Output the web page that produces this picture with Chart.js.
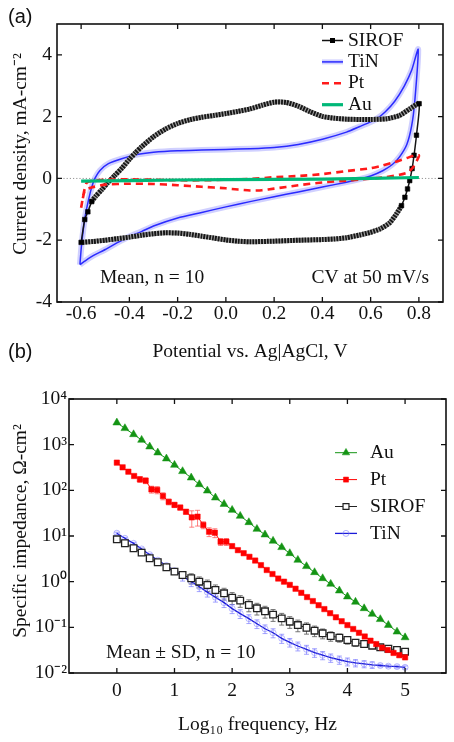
<!DOCTYPE html>
<html>
<head>
<meta charset="utf-8">
<script src="https://cdn.jsdelivr.net/npm/chart.js@4.4.1/dist/chart.umd.min.js"></script>
<style>
html, body { margin: 0; padding: 0; background: #fff; }
body { width: 454px; height: 742px; position: relative; overflow: hidden; }
canvas { position: absolute; left: 0; }
#cv { top: 0; }
#eis { top: 368px; }
.panel { position: absolute; left: 8px; z-index: 2; font: 20px "Liberation Sans", Arial, sans-serif; line-height: 20px; color: #111; }
</style>
</head>
<body>
<div class="panel" style="top:6px">(a)</div>
<div class="panel" style="top:341px">(b)</div>
<canvas id="cv" width="454" height="368"></canvas>
<canvas id="eis" width="454" height="374"></canvas>
<script>
// ---- (a) cyclic voltammetry, potential (V) vs current density (mA/cm2)
const cvTicksX = [-0.6, -0.4, -0.2, 0.0, 0.2, 0.4, 0.6, 0.8];
const cvTicksY = [-4, -2, 0, 2, 4];

const sirofV = [-0.600,-0.585,-0.572,-0.556,-0.540,-0.515,-0.490,-0.460,-0.430,-0.400,-0.375,-0.350,-0.300,-0.250,-0.200,-0.150,-0.100,-0.050,0.000,0.050,0.100,0.150,0.200,0.250,0.300,0.350,0.400,0.450,0.500,0.555,0.600,0.666,0.720,0.762,0.801,
  0.790,0.780,0.772,0.762,0.753,0.742,0.728,0.707,0.680,0.638,0.597,0.555,0.500,0.450,0.400,0.300,0.200,0.100,0.050,0.000,-0.050,-0.100,-0.150,-0.200,-0.250,-0.300,-0.350,-0.400,-0.450,-0.500,-0.550,-0.600];
const sirofJ = [-2.07,-1.33,-1.08,-0.75,-0.58,-0.37,-0.14,0.10,0.34,0.62,0.83,1.02,1.35,1.60,1.78,1.90,1.98,2.04,2.10,2.17,2.25,2.37,2.47,2.46,2.34,2.16,2.01,1.95,1.92,1.91,1.91,1.93,2.04,2.25,2.42,
  1.40,0.75,0.32,-0.07,-0.34,-0.61,-0.88,-1.15,-1.43,-1.64,-1.75,-1.83,-1.92,-1.96,-1.98,-2.00,-2.03,-2.05,-2.03,-1.99,-1.93,-1.87,-1.81,-1.77,-1.76,-1.79,-1.84,-1.90,-1.95,-2.00,-2.04,-2.07];

const tinV = [-0.605,-0.598,-0.584,-0.570,-0.556,-0.543,-0.522,-0.487,-0.432,-0.363,-0.300,-0.200,-0.100,0.000,0.100,0.200,0.300,0.400,0.500,0.555,0.600,0.625,0.660,0.700,0.740,0.770,0.797,
  0.783,0.770,0.750,0.720,0.690,0.650,0.600,0.555,0.500,0.400,0.300,0.200,0.100,0.000,-0.100,-0.200,-0.300,-0.350,-0.400,-0.450,-0.500,-0.550,-0.580,-0.605];
const tinJ = [-2.79,-2.13,-1.26,-0.72,-0.28,0.00,0.26,0.48,0.64,0.78,0.85,0.90,0.92,0.94,0.96,1.00,1.10,1.27,1.50,1.68,1.83,1.93,2.15,2.50,3.00,3.50,4.18,
  2.50,1.70,1.10,0.70,0.45,0.25,0.08,-0.02,-0.12,-0.28,-0.44,-0.59,-0.75,-0.92,-1.10,-1.28,-1.54,-1.72,-1.88,-2.08,-2.30,-2.50,-2.65,-2.79];

const ptV = [-0.600,-0.590,-0.578,-0.560,-0.500,-0.400,-0.300,-0.200,-0.100,0.000,0.100,0.200,0.300,0.400,0.500,0.600,0.650,0.700,0.750,0.780,0.800,
  0.800,0.790,0.775,0.755,0.720,0.650,0.550,0.500,0.400,0.300,0.200,0.150,0.100,0.050,0.000,-0.100,-0.200,-0.300,-0.400,-0.500,-0.560,-0.585,-0.600];
const ptJ = [-0.95,-0.50,-0.15,-0.08,-0.04,-0.03,-0.04,-0.06,-0.06,-0.04,-0.02,0.04,0.08,0.14,0.24,0.33,0.42,0.53,0.66,0.74,0.75,
  0.72,0.55,0.35,0.20,0.12,0.03,-0.04,-0.07,-0.13,-0.22,-0.33,-0.38,-0.39,-0.36,-0.32,-0.27,-0.22,-0.18,-0.17,-0.20,-0.30,-0.40,-0.95];

const auV = [-0.6, -0.4, -0.2, 0.0, 0.2, 0.4, 0.6, 0.8];
const auJ = [-0.09, -0.07, -0.05, -0.04, -0.03, -0.02, 0.00, 0.03];

// ---- (b) impedance magnitude (ohm cm2) vs log10 frequency
const eisTicksX = [0, 1, 2, 3, 4, 5];
const eisTicksY = [0.01, 0.1, 1, 10, 100, 1000, 10000];
const eisTickLabels = ['10⁻²', '10⁻¹', '10⁰', '10¹', '10²', '10³', '10⁴'];

const logF7 = [0,0.14,0.29,0.43,0.57,0.71,0.86,1,1.14,1.29,1.43,1.57,1.71,1.86,2,2.14,2.29,2.43,2.57,2.71,2.86,3,3.14,3.29,3.43,3.57,3.71,3.86,4,4.14,4.29,4.43,4.57,4.71,4.86,5];
const logF10 = [0,0.1,0.2,0.3,0.4,0.5,0.6,0.7,0.8,0.9,1,1.1,1.2,1.3,1.4,1.5,1.6,1.7,1.8,1.9,2,2.1,2.2,2.3,2.4,2.5,2.6,2.7,2.8,2.9,3,3.1,3.2,3.3,3.4,3.5,3.6,3.7,3.8,3.9,4,4.1,4.2,4.3,4.4,4.5,4.6,4.7,4.8,4.9,5];

const auZ = [3030,2280,1680,1265,904,668,494,359,261,189,135,98,69,50,37,27.4,19.9,14.2,10.7,7.8,5.65,4.17,2.98,2.17,1.6,1.18,0.89,0.635,0.47,0.36,0.26,0.196,0.15,0.112,0.080,0.060];
const ptZ = [404,319,256,206,174,163,105,102,75,56,48,42,34,25.6,26.5,17.4,12.4,11.8,7.5,7.5,6.0,4.9,4.2,3.5,2.9,2.3,1.8,1.47,1.17,1.0,
  0.85,0.70,0.57,0.46,0.376,0.305,0.251,0.204,0.166,0.136,0.112,0.092,0.076,0.063,0.051,0.043,0.036,0.032,0.0275,0.0245,0.022];
const ptSd = [10,8,8,8,25,23,18,18,13,8,6,5,4,10,10,3,2.7,2.6,1.3,1.3,0.6,0.4,0.3,0.25,0.2,0.15,0.12,0.08,0.06,0.05,0.04,
  0.03,0.025,0.02,0.016,0.013,0.01,0.008,0.007,0.006,0.005,0.004,0.003,0.003,0.002,0.002,0.0015,0.0013,0.0011,0.001,0.0009];
const sirofZ = [8.45,6.93,5.39,4.33,3.25,2.66,2.07,1.66,1.40,1.19,1.0,0.845,0.657,0.556,0.446,0.384,0.309,0.261,0.224,0.19,0.157,0.133,0.112,0.098,0.0845,0.074,0.0646,0.0594,0.0528,0.0462,0.0432,0.0397,0.0365,0.0341,0.0319,0.0293];
const sirofSd = [0.4,0.3,0.25,0.2,0.15,0.12,0.15,0.15,0.2,0.3,0.27,0.24,0.19,0.16,0.13,0.11,0.09,0.075,0.065,0.055,0.045,0.038,0.032,0.027,0.022,0.018,0.015,0.012,0.01,0.008,0.007,0.005,0.004,0.004,0.003,0.003];
const tinZ = [11.5,8.9,6.9,5.2,3.9,2.95,2.26,1.74,1.32,1.0,0.776,0.59,0.457,0.347,0.257,0.2,0.155,0.12,0.093,0.076,0.0575,0.047,0.039,0.033,0.028,0.0245,0.0216,0.0195,0.0178,0.0166,0.0158,0.0151,0.0146,0.0141,0.0138,0.0133];
const tinSd = [0.6,0.45,0.35,0.26,0.2,0.15,0.12,0.1,0.29,0.22,0.17,0.13,0.10,0.076,0.057,0.044,0.034,0.026,0.02,0.017,0.013,0.01,0.0086,0.0073,0.006,0.005,0.0045,0.004,0.0035,0.003,0.0028,0.0025,0.001,0.001,0.001,0.001];

const SERIF = '"Liberation Serif", "Times New Roman", serif';
const FS = 19.5;
Chart.defaults.font.family = SERIF;
Chart.defaults.font.size = FS;
Chart.defaults.color = '#111';

const pts = (xs, ys) => xs.map((v, i) => ({x: v, y: ys[i]}));

// SIROF sweep: steep parts show separate markers, flat parts a dense band
function steepSeg(c) {
  return Math.abs(c.p1.y - c.p0.y) > 2 * Math.abs(c.p1.x - c.p0.x);
}
function nearSteep(c) {
  if (c.type !== 'data') return false;
  const d = c.dataset.data, i = c.dataIndex, sx = c.chart.scales.x, sy = c.chart.scales.y;
  const st = j => {
    if (j < 0 || j + 1 >= d.length) return false;
    const dx = Math.abs(sx.getPixelForValue(d[j + 1].x) - sx.getPixelForValue(d[j].x));
    const dy = Math.abs(sy.getPixelForValue(d[j + 1].y) - sy.getPixelForValue(d[j].y));
    return dy > 2 * dx;
  };
  return st(i - 1) || st(i);
}

function marker(ctx, style, r, fill, stroke, lw, x, y) {
  ctx.save();
  ctx.fillStyle = fill; ctx.strokeStyle = stroke; ctx.lineWidth = lw;
  Chart.helpers.drawPoint(ctx, {pointStyle: style, radius: r, rotation: 0, borderWidth: lw}, x, y);
  ctx.restore();
}

// frame, inward ticks, notes, legend, rotated y title
function decor(cfg) {
  return {
    id: 'decor',
    beforeDatasetsDraw(chart) {
      const {ctx, chartArea: a} = chart;
      if (cfg.zeroLine) {
        const y0 = chart.scales.y.getPixelForValue(0);
        ctx.save();
        ctx.strokeStyle = '#8a8a8a'; ctx.lineWidth = 0.9; ctx.setLineDash([1.2, 2]);
        ctx.beginPath(); ctx.moveTo(a.left, y0); ctx.lineTo(a.right, y0); ctx.stroke();
        ctx.restore();
      }
      if (cfg.errors) cfg.errors(chart);
    },
    afterDraw(chart) {
      const {ctx, chartArea: a, scales: {x, y}} = chart;
      ctx.save();
      ctx.strokeStyle = '#111';
      ctx.lineWidth = 1.6;
      ctx.strokeRect(a.left, a.top, a.width, a.height);
      ctx.lineWidth = 1.3;
      ctx.beginPath();
      x.ticks.forEach(t => {
        const p = x.getPixelForValue(t.value);
        ctx.moveTo(p, a.bottom); ctx.lineTo(p, a.bottom - 5);
        ctx.moveTo(p, a.top); ctx.lineTo(p, a.top + 5);
      });
      y.ticks.forEach(t => {
        const p = y.getPixelForValue(t.value);
        ctx.moveTo(a.left, p); ctx.lineTo(a.left + 5, p);
        ctx.moveTo(a.right, p); ctx.lineTo(a.right - 5, p);
      });
      ctx.stroke();

      ctx.fillStyle = '#111';
      ctx.font = FS + 'px ' + SERIF;
      ctx.textBaseline = 'alphabetic';
      cfg.notes.forEach(n => {
        ctx.textAlign = n.align;
        ctx.fillText(n.text, n.right ? a.right - n.dx : a.left + n.dx, a.bottom - n.dy);
      });

      // y title
      ctx.save();
      ctx.translate(cfg.yTitle.x, a.top + cfg.yTitle.dy);
      ctx.rotate(-Math.PI / 2);
      ctx.textAlign = 'center';
      ctx.fillText(cfg.yTitle.text, 0, 0);
      ctx.restore();

      // legend
      const L = cfg.legend;
      L.items.forEach((it, i) => {
        const yy = a.top + L.dy + i * L.step;
        const x0 = a.left + L.dx, x1 = x0 + L.len, xm = (x0 + x1) / 2;
        it.draw(ctx, x0, x1, xm, yy);
        ctx.fillStyle = '#111';
        ctx.textAlign = 'left';
        ctx.textBaseline = 'middle';
        ctx.fillText(it.label, x1 + L.gap, yy);
      });
      ctx.restore();
    }
  };
}

function seg(ctx, x0, x1, y, color, w, dash) {
  ctx.save();
  ctx.strokeStyle = color; ctx.lineWidth = w; ctx.setLineDash(dash || []);
  ctx.beginPath(); ctx.moveTo(x0, y); ctx.lineTo(x1, y); ctx.stroke();
  ctx.restore();
}

const TIN_HALO = 'rgba(150,150,255,0.45)';

// ---------------- chart (a)
new Chart(document.getElementById('cv'), {
  type: 'line',
  data: {
    datasets: [
      {label: 'Au', data: pts(auV, auJ), borderColor: '#00b878', borderWidth: 3.2, pointRadius: 0},
      {label: 'Pt', data: pts(ptV, ptJ), borderColor: '#ff1a1a', borderWidth: 2.6, borderDash: [7, 5], pointRadius: 0, tension: 0.2},
      {label: 'SIROF', data: pts(sirofV, sirofJ), borderColor: '#151515', borderWidth: 5, tension: 0.2,
        segment: {
          borderWidth: c => steepSeg(c) ? 1.5 : 5,
          borderDash: c => steepSeg(c) ? [] : [1.8, 1.1]
        },
        pointStyle: 'rect', pointRadius: c => nearSteep(c) ? 3.2 : 0,
        pointBackgroundColor: '#000', pointBorderColor: '#000', pointBorderWidth: 0.6},
      {label: 'SIROF band', data: pts(sirofV, sirofJ), borderColor: '#a0a0a0', borderWidth: 5, tension: 0.2, pointRadius: 0,
        segment: {borderColor: c => steepSeg(c) ? 'rgba(0,0,0,0)' : '#a0a0a0'}},
      {label: 'TiN', data: pts(tinV, tinJ), borderColor: '#2a2aff', borderWidth: 1.5, pointRadius: 0, tension: 0.2},
      {label: 'TiN halo', data: pts(tinV, tinJ), borderColor: TIN_HALO, borderWidth: 6, pointRadius: 0, tension: 0.2}
    ]
  },
  options: {
    responsive: false,
    animation: false,
    events: [],
    layout: {padding: {top: 24, right: 11, left: 0, bottom: 0}},
    plugins: {legend: {display: false}, tooltip: {enabled: false}},
    scales: {
      x: {
        type: 'linear', min: -0.7, max: 0.9,
        afterBuildTicks: s => { s.ticks = cvTicksX.map(v => ({value: v})); },
        afterFit: s => { s.height = 66; },
        grid: {display: false, drawTicks: false},
        border: {display: false},
        ticks: {padding: 0, color: '#111', callback: v => Number(v).toFixed(1)},
        title: {display: true, text: 'Potential vs. Ag|AgCl, V', color: '#111', padding: {top: 0, bottom: 4}}
      },
      y: {
        min: -4, max: 5,
        afterBuildTicks: s => { s.ticks = cvTicksY.map(v => ({value: v})); },
        afterFit: s => { s.width = 57; },
        grid: {display: false, drawTicks: false},
        border: {display: false},
        ticks: {padding: 5, color: '#111', callback: v => String(v)}
      }
    }
  },
  plugins: [decor({
    zeroLine: true,
    notes: [
      {text: 'Mean, n = 10', align: 'left', dx: 43, dy: 19},
      {text: 'CV at 50 mV/s', align: 'right', right: true, dx: 14, dy: 19}
    ],
    yTitle: {text: 'Current density, mA-cm⁻²', x: 26, dy: 130},
    legend: {
      dx: 265, len: 21, gap: 5, dy: 16.5, step: 21.4,
      items: [
        {label: 'SIROF', draw: (ctx, x0, x1, xm, y) => { seg(ctx, x0, x1, y, '#111', 1.5); ctx.fillStyle = '#000'; ctx.fillRect(xm - 2.5, y - 2.5, 5, 5); }},
        {label: 'TiN', draw: (ctx, x0, x1, xm, y) => { seg(ctx, x0, x1, y, TIN_HALO, 5); seg(ctx, x0, x1, y, '#2a2aff', 1.5); }},
        {label: 'Pt', draw: (ctx, x0, x1, xm, y) => { seg(ctx, x0, x1, y, '#ff1a1a', 2.6, [7, 5]); }},
        {label: 'Au', draw: (ctx, x0, x1, xm, y) => { seg(ctx, x0, x1, y, '#00b878', 3.2); }}
      ]
    }
  })]
});

// ---------------- chart (b)
function eisErrors(chart) {
  const {ctx, scales: {x, y}} = chart;
  [[logF10, ptZ, ptSd, 'rgba(255,80,80,0.8)'],
   [logF7, sirofZ, sirofSd, '#666'],
   [logF7, tinZ, tinSd, 'rgba(120,120,255,0.75)']].forEach(([fs, zs, sds, col]) => {
    ctx.save();
    ctx.strokeStyle = col; ctx.lineWidth = 0.9;
    ctx.beginPath();
    fs.forEach((f, i) => {
      const px = x.getPixelForValue(f);
      const hi = y.getPixelForValue(zs[i] + sds[i]);
      const lo = y.getPixelForValue(Math.max(zs[i] - sds[i], zs[i] * 0.05));
      ctx.moveTo(px, hi); ctx.lineTo(px, lo);
      ctx.moveTo(px - 2.5, hi); ctx.lineTo(px + 2.5, hi);
      ctx.moveTo(px - 2.5, lo); ctx.lineTo(px + 2.5, lo);
    });
    ctx.stroke();
    ctx.restore();
  });
}

new Chart(document.getElementById('eis'), {
  type: 'line',
  data: {
    datasets: [
      {label: 'Au', data: pts(logF7, auZ), borderColor: '#149414', backgroundColor: '#149414', borderWidth: 1,
        pointStyle: 'triangle', pointRadius: 4.6, pointBorderWidth: 0.5},
      {label: 'Pt', data: pts(logF10, ptZ), borderColor: '#ff0000', backgroundColor: '#ff0000', borderWidth: 1,
        pointStyle: 'rect', pointRadius: 3.8, pointBorderWidth: 0.5},
      {label: 'SIROF', data: pts(logF7, sirofZ), borderColor: '#222', backgroundColor: '#fff', borderWidth: 1,
        pointStyle: 'rect', pointRadius: 4.7, pointBorderWidth: 1.3},
      {label: 'TiN', data: pts(logF7, tinZ), borderColor: '#1a1ad8', borderWidth: 1.3,
        pointStyle: 'circle', pointRadius: 3, pointBorderColor: 'rgba(130,130,255,0.55)', pointBackgroundColor: 'rgba(0,0,0,0)', pointBorderWidth: 1}
    ]
  },
  options: {
    responsive: false,
    animation: false,
    events: [],
    layout: {padding: {top: 31, right: 8, left: 0, bottom: 0}},
    plugins: {legend: {display: false}, tooltip: {enabled: false}},
    scales: {
      x: {
        type: 'linear', min: -0.83, max: 5.71,
        afterBuildTicks: s => { s.ticks = eisTicksX.map(v => ({value: v})); },
        afterFit: s => { s.height = 69; },
        grid: {display: false, drawTicks: false},
        border: {display: false},
        ticks: {padding: 6.5, color: '#111', callback: v => String(v)},
        title: {display: true, text: 'Log₁₀ frequency, Hz', color: '#111', padding: {top: 0, bottom: 5}}
      },
      y: {
        type: 'logarithmic', min: 0.01, max: 10000,
        afterBuildTicks: s => { s.ticks = eisTicksY.map(v => ({value: v})); },
        afterFit: s => { s.width = 69; },
        grid: {display: false, drawTicks: false},
        border: {display: false},
        ticks: {padding: 2, color: '#111', callback: (v, i) => eisTickLabels[i]}
      }
    }
  },
  plugins: [decor({
    errors: eisErrors,
    notes: [{text: 'Mean ± SD, n = 10', align: 'left', dx: 37, dy: 15}],
    yTitle: {text: 'Specific impedance, Ω-cm²', x: 26, dy: 132},
    legend: {
      dx: 266, len: 22, gap: 13, dy: 53.7, step: 26.9,
      items: [
        {label: 'Au', draw: (ctx, x0, x1, xm, y) => { seg(ctx, x0, x1, y, '#149414', 1); marker(ctx, 'triangle', 4.3, '#149414', '#149414', 0.5, xm, y); }},
        {label: 'Pt', draw: (ctx, x0, x1, xm, y) => { seg(ctx, x0, x1, y, '#ff0000', 1); marker(ctx, 'rect', 3.6, '#ff0000', '#ff0000', 0.5, xm, y); }},
        {label: 'SIROF', draw: (ctx, x0, x1, xm, y) => { seg(ctx, x0, x1, y, '#222', 1); marker(ctx, 'rect', 4.2, '#fff', '#222', 1.2, xm, y); }},
        {label: 'TiN', draw: (ctx, x0, x1, xm, y) => { seg(ctx, x0, x1, y, '#1a1ad8', 1.3); marker(ctx, 'circle', 3, 'rgba(0,0,0,0)', 'rgba(130,130,255,0.6)', 1, xm, y); }}
      ]
    }
  })]
});
</script>
</body>
</html>
